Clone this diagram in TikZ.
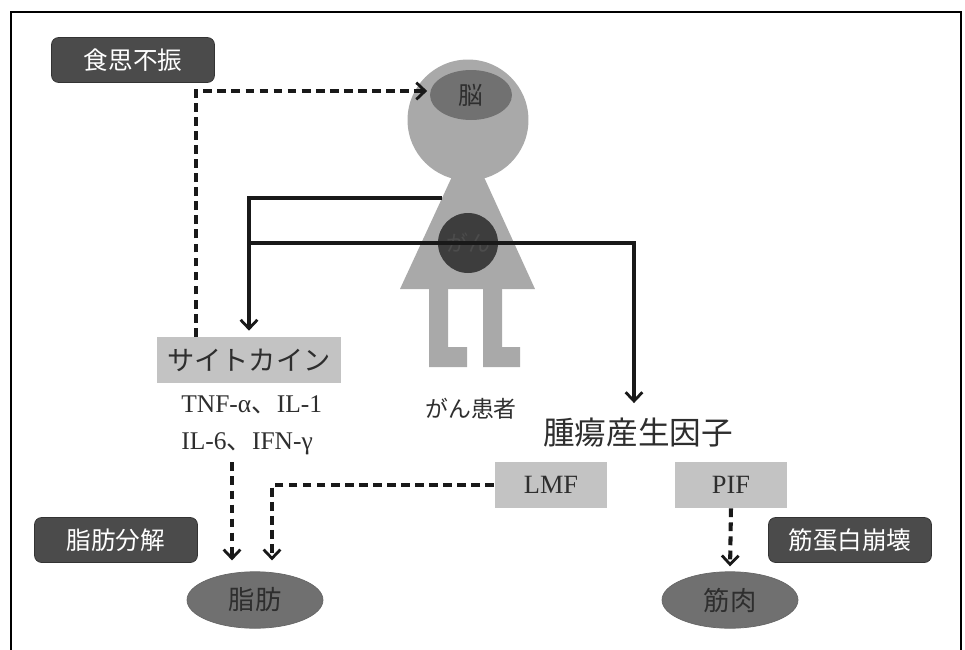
\documentclass[tikz,border=0pt]{standalone}
\usepackage{fontspec}
\setmainfont{Liberation Serif}
\newfontfamily\cjk{Noto Sans CJK JP}
\usetikzlibrary{shapes.geometric,arrows.meta}

\definecolor{tagfill}{HTML}{4B4B4B}
\definecolor{figfill}{HTML}{A9A9A9}
\definecolor{brainfill}{HTML}{717171}
\definecolor{tumorfill}{HTML}{3D3D3D}
\definecolor{boxfill}{HTML}{C3C3C3}
\definecolor{tissuefill}{HTML}{707070}
\definecolor{ink}{HTML}{2E2E2E}

\begin{document}
\begin{tikzpicture}[x=0.02cm, y=-0.02cm,
		every node/.style={inner sep=0pt},
		tag/.style={rounded corners=4pt, fill=tagfill, draw=black!80, text=white,
			minimum width=3.26cm, minimum height=0.9cm, font=\cjk\fontsize{14}{16}\selectfont},
		factor/.style={fill=boxfill, minimum height=0.92cm, text=ink},
		tissue/.style={ellipse, fill=tissuefill, draw=black!60, text=ink,
			minimum width=2.72cm, minimum height=1.13cm, font=\cjk\fontsize{15}{17}\selectfont},
		link/.style={line width=2.1pt, draw=black!90},
		linkto/.style={link, -{Straight Barb[length=5pt, width=9.5pt, line width=1.6pt]}},
		weak/.style={linkto, line width=2.3pt, dash pattern=on 5pt off 3pt}]
	\useasboundingbox (0, 0) rectangle (965, 650);
	\draw [line width=0.9pt] (11, 650) -- (11, 12) -- (961, 12) -- (961, 650);

	% patient figure
	\fill [figfill] (468, 142) -- (535, 289) -- (400, 289) -- cycle;
	\fill [figfill] (429, 289) -- (448, 289) -- (448, 347) -- (467, 347) -- (467, 367) -- (429, 367) -- cycle;
	\fill [figfill] (483, 289) -- (502, 289) -- (502, 347) -- (520, 347) -- (520, 367) -- (483, 367) -- cycle;
	\node at (468, 120) (head) [circle, fill=figfill, minimum size=2.42cm] {};
	\node at (471, 95) (brain) [ellipse, fill=brainfill, minimum width=1.64cm, minimum height=1cm,
		text=ink, font=\cjk\fontsize{14}{16}\selectfont] {脳};
	\node at (468, 243) (tumor) [circle, fill=tumorfill, minimum size=1.2cm,
		text=black!70, font=\cjk\fontsize{12.5}{14}\selectfont] {がん};
	\coordinate (bodyedge) at (442, 198);
	\node at (471, 409) (patient) [font=\cjk\fontsize{13}{15}\selectfont, text=ink] {がん患者};

	\node at (133, 60) (anorexia) [tag] {食思不振};
	\node at (116, 540) (lipolysis) [tag] {脂肪分解};
	\node at (850, 540) (proteolysis) [tag] {筋蛋白崩壊};

	\node at (249, 360) (cytokine) [factor, minimum width=3.68cm,
		font=\cjk\fontsize{15.5}{17}\selectfont] {サイトカイン};
	\node at (181, 425) (tnf) [anchor=west, align=left, text=ink,
		font=\fontsize{14.5}{21}\selectfont] {TNF-α{\cjk 、}IL-1\\IL-6{\cjk 、}IFN-γ};

	\node at (638, 433) (tumorfactor) [font=\cjk\fontsize{18}{20}\selectfont, text=ink] {腫瘍産生因子};
	\node at (551, 485) (lmf) [factor, minimum width=2.26cm, font=\fontsize{15}{17}\selectfont] {LMF};
	\node at (731, 485) (pif) [factor, minimum width=2.26cm, font=\fontsize{15}{17}\selectfont] {PIF};

	\node at (255, 600) (fat) [tissue] {脂肪};
	\node at (730, 600) (muscle) [tissue] {筋肉};
	\coordinate (fatleft) at ([xshift=-0.46cm]fat.north);
	\coordinate (fatright) at ([xshift=0.34cm]fat.north);
	\coordinate (appetite) at ([xshift=-1.06cm]cytokine.north);

	\draw [linkto, shorten >=0.12cm] (bodyedge) -| (cytokine.north);
	\draw [link] (tumor.center) -- (tumor.center -| cytokine.north);
	\draw [linkto, shorten >=0.3cm] (tumor.center) -| ([xshift=-0.08cm]tumorfactor.north);
	\draw [weak, shorten >=0.05cm] (appetite) |- ([yshift=0.08cm]brain.west);
	\draw [weak, shorten <=0.15cm, shorten >=0.22cm] (fatleft |- tnf.south) -- (fatleft);
	\draw [weak, shorten >=0.22cm] (lmf.west) -| (fatright);
	\draw [weak, shorten >=0.1cm] (pif.south) -- (muscle.north);
\end{tikzpicture}
\end{document}
